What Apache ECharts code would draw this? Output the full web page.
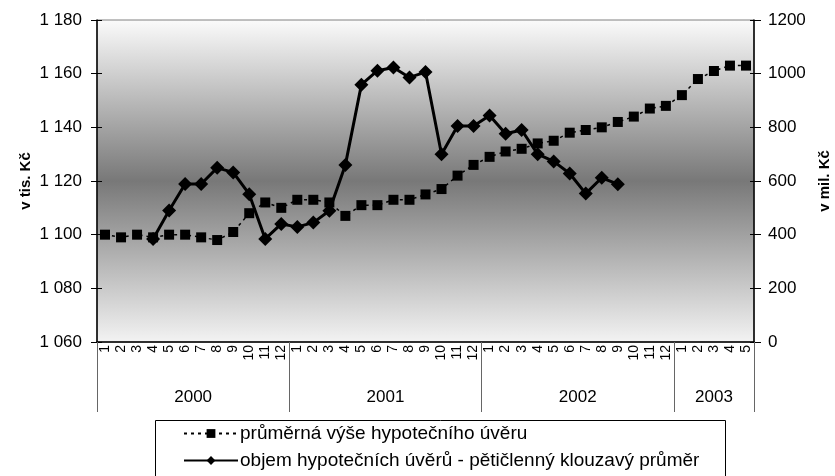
<!DOCTYPE html>
<html>
<head>
<meta charset="utf-8">
<script src="https://cdn.jsdelivr.net/npm/echarts@6/dist/echarts.min.js"></script>
<style>
  html, body { margin: 0; padding: 0; background: #fff; }
  #chart { width: 835px; height: 476px; }
</style>
</head>
<body>
<div id="chart"></div>
<script>
// months 2000-1 .. 2003-5
const months = [
  '1','2','3','4','5','6','7','8','9','10','11','12',
  '1','2','3','4','5','6','7','8','9','10','11','12',
  '1','2','3','4','5','6','7','8','9','10','11','12',
  '1','2','3','4','5'
];
const years = ['2000', '2001', '2002', '2003'];
const yearBounds = [0, 12, 24, 36, 41];
const yearCenters = [6, 18, 30, 38.5];

// průměrná výše hypotečního úvěru (v tis. Kč)
const avgLoan = [
  1100, 1099, 1100, 1099, 1100, 1100, 1099, 1098, 1101, 1108, 1112, 1110,
  1113, 1113, 1112, 1107, 1111, 1111, 1113, 1113, 1115, 1117, 1122, 1126,
  1129, 1131, 1132, 1134, 1135, 1138, 1139, 1140, 1142, 1144, 1147, 1148,
  1152, 1158, 1161, 1163, 1163
];
// objem hypotečních úvěrů - pětičlenný klouzavý průměr (v mil. Kč)
const volumeMA = [
  null, null, null, 384, 490, 589, 589, 649, 632, 551, 384, 440,
  429, 445, 489, 660, 959, 1011, 1023, 986, 1006, 700, 805, 805,
  844, 776, 790, 700, 673, 628, 553, 612, 588
];

const font = 'Liberation Sans, Arial, sans-serif';
const chart = echarts.init(document.getElementById('chart'));

const option = {
  animation: false,
  textStyle: { fontFamily: font, color: '#000' },
  grid: {
    left: 97, right: 81, top: 20, bottom: 134,
    outerBoundsMode: 'none',
    containLabel: false,
    show: true,
    borderColor: '#808080',
    borderWidth: 1,
    backgroundColor: {
      type: 'linear', x: 0, y: 0, x2: 0, y2: 1,
      colorStops: [
        { offset: 0, color: '#fbfbfb' },
        { offset: 0.5, color: '#787878' },
        { offset: 1, color: '#f3f3f3' }
      ]
    }
  },
  // legend frame runs off the bottom edge
  graphic: [{
    type: 'rect', left: 155, top: 420, z: 0,
    shape: { width: 570, height: 80 },
    style: { fill: '#fff', stroke: '#000', lineWidth: 1 }
  }],
  legend: {
    orient: 'vertical',
    left: 183, top: 424,
    itemWidth: 54, itemHeight: 11, itemGap: 8,
    padding: 0,
    textStyle: { fontSize: 19, fontFamily: font, color: '#000', padding: [0, 0, 0, -3] },
    data: ['průměrná výše hypotečního úvěru', 'objem hypotečních úvěrů - pětičlenný klouzavý průměr']
  },
  xAxis: [
    {
      type: 'category', data: months, position: 'bottom',
      axisLine: { lineStyle: { color: '#000', width: 1.5 } },
      axisTick: { interval: 0, length: 33, lineStyle: { color: '#000' } },
      axisLabel: { interval: 0, rotate: 90, fontSize: 14, margin: 3, color: '#000', fontFamily: font },
      splitLine: { show: false }
    },
    {
      type: 'category', data: months, position: 'bottom',
      axisLine: { show: false },
      axisTick: { interval: 0, inside: true, length: 5, lineStyle: { color: '#000' } },
      axisLabel: { show: false },
      splitLine: { show: false }
    },
    {
      type: 'value', min: 0, max: 41, position: 'bottom',
      axisLine: { show: false },
      axisTick: { show: true, customValues: yearBounds, length: 70, lineStyle: { color: '#666' } },
      axisLabel: {
        customValues: yearCenters, margin: 47, fontSize: 17, color: '#000', fontFamily: font,
        formatter: v => years[yearCenters.indexOf(v)]
      },
      splitLine: { show: false }
    }
  ],
  yAxis: [
    {
      type: 'value', position: 'left', min: 1060, max: 1180, interval: 20,
      name: 'v tis. Kč', nameLocation: 'middle', nameRotate: 90, nameGap: 64,
      nameMoveOverlap: false,
      nameTextStyle: { fontWeight: 'bold', fontSize: 15, fontFamily: font, color: '#000' },
      axisLine: { show: true, lineStyle: { color: '#000', width: 1.5 } },
      axisTick: { show: true, length: 6, lineStyle: { color: '#000' } },
      axisLabel: {
        fontSize: 17, margin: 15, color: '#000', fontFamily: font,
        formatter: v => String(v).replace(/\B(?=(\d{3})+(?!\d))/g, ' ')
      },
      splitLine: { show: false }
    },
    {
      type: 'value', position: 'right', min: 0, max: 1200, interval: 200,
      name: 'v mil. Kč', nameLocation: 'middle', nameRotate: 90, nameGap: 63,
      nameMoveOverlap: false,
      nameTextStyle: { fontWeight: 'bold', fontSize: 15, fontFamily: font, color: '#000' },
      axisLine: { show: true, lineStyle: { color: '#000', width: 1.5 } },
      axisTick: { show: true, length: 7, lineStyle: { color: '#000' } },
      axisLabel: { fontSize: 17, margin: 14, color: '#000', fontFamily: font, formatter: v => String(v) },
      splitLine: { show: false }
    },
    {
      type: 'value', position: 'left', min: 1060, max: 1180, interval: 20,
      axisLine: { show: false },
      axisTick: { show: true, inside: true, length: 5, lineStyle: { color: '#000' } },
      axisLabel: { show: false },
      splitLine: { show: false }
    },
    {
      type: 'value', position: 'right', min: 0, max: 1200, interval: 200,
      axisLine: { show: false },
      axisTick: { show: true, inside: true, length: 4, lineStyle: { color: '#000' } },
      axisLabel: { show: false },
      splitLine: { show: false }
    }
  ],
  series: [
    {
      name: 'průměrná výše hypotečního úvěru',
      type: 'line', xAxisIndex: 0, yAxisIndex: 0,
      data: avgLoan,
      symbol: 'rect', symbolSize: 10,
      itemStyle: { color: '#000' },
      lineStyle: { color: '#000', width: 1.5, type: [3, 4] }
    },
    {
      name: 'objem hypotečních úvěrů - pětičlenný klouzavý průměr',
      type: 'line', xAxisIndex: 0, yAxisIndex: 1,
      data: volumeMA,
      symbol: 'diamond', symbolSize: 14,
      itemStyle: { color: '#000' },
      lineStyle: { color: '#000', width: 3 }
    }
  ]
};

chart.setOption(option);
</script>
</body>
</html>
